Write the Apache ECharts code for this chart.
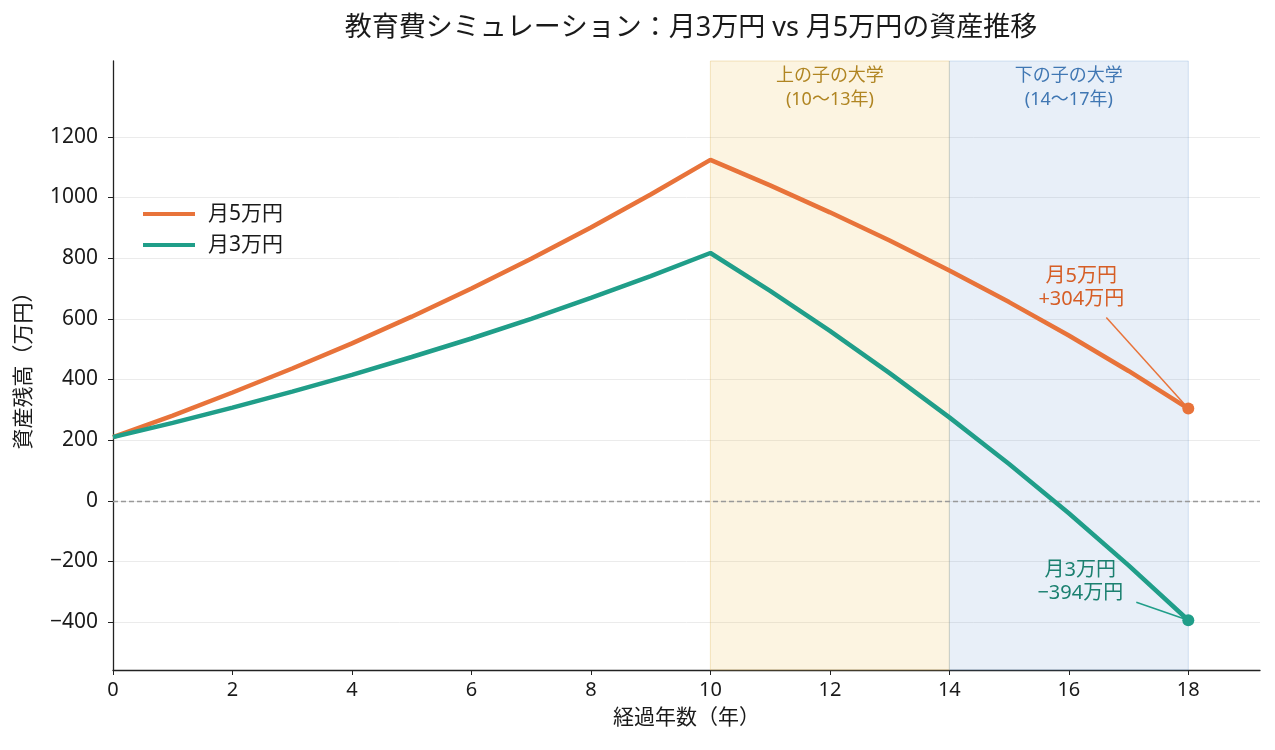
<!DOCTYPE html>
<html>
<head>
<meta charset="utf-8">
<script src="https://cdn.jsdelivr.net/npm/echarts@6/dist/echarts.min.js"></script>
<style>
  html, body { margin: 0; padding: 0; background: #fff; }
  #chart { width: 1275px; height: 750px; }
</style>
</head>
<body>
<div id="chart"></div>
<script>
// years elapsed
const years = [0, 1, 2, 3, 4, 5, 6, 7, 8, 9, 10, 11, 12, 13, 14, 15, 16, 17, 18];
// asset balance (万円)
const plan5 = [210, 281, 357, 436, 519, 607, 700, 798, 901, 1010, 1124, 1040, 951, 858, 759, 655, 545, 428, 304];
const plan3 = [210, 257, 307, 360, 415, 474, 535, 600, 669, 741, 817, 692, 560, 421, 275, 121, -41, -213, -394];
const xTicks = [0, 2, 4, 6, 8, 10, 12, 14, 16, 18];
const yTicks = [-400, -200, 0, 200, 400, 600, 800, 1000, 1200];
const college1 = [10, 14];
const college2 = [14, 18];

const FONT = '"Noto Sans", "Noto Sans CJK JP", sans-serif';
const ORANGE = '#e8733a';
const TEAL = '#209e89';

const chart = echarts.init(document.getElementById('chart'));

const pairs = arr => years.map((y, i) => [y, arr[i]]);
const last = years.length - 1;

chart.setOption({
  animation: false,
  textStyle: {fontFamily: FONT},
  title: {
    text: '教育費シミュレーション：月3万円 vs 月5万円の資産推移',
    left: 686,
    textAlign: 'center',
    top: 10,
    textStyle: {fontSize: 27, fontWeight: 'normal', color: '#1a1a1a', fontFamily: FONT}
  },
  legend: {
    orient: 'vertical',
    left: 143,
    top: 203,
    padding: 0,
    itemWidth: 52,
    itemHeight: 4,
    itemGap: 9,
    icon: 'rect',
    data: ['月5万円', '月3万円'],
    textStyle: {fontSize: 21, color: '#1a1a1a', padding: [0, 0, 0, 8], lineHeight: 22}
  },
  grid: {left: 113, right: 15, top: 61, bottom: 80},
  xAxis: {
    type: 'value',
    min: 0,
    max: 19.2,
    name: '経過年数（年）',
    nameLocation: 'middle',
    nameGap: 38,
    nameTextStyle: {fontSize: 21, color: '#1a1a1a'},
    axisLine: {show: true, onZero: false, lineStyle: {color: '#222', width: 1.3}},
    axisTick: {show: true, length: 5, lineStyle: {color: '#222'}, customValues: xTicks},
    axisLabel: {fontSize: 20, color: '#1a1a1a', margin: 10, customValues: xTicks},
    splitLine: {show: false}
  },
  yAxis: {
    type: 'value',
    min: -558,
    max: 1450,
    name: '資産残高（万円）',
    nameLocation: 'middle',
    nameGap: 78,
    nameRotate: 90,
    nameTextStyle: {fontSize: 21, color: '#1a1a1a'},
    axisLine: {show: true, onZero: false, lineStyle: {color: '#222', width: 1.3}},
    axisTick: {show: true, length: 5, lineStyle: {color: '#222'}, customValues: yTicks},
    axisLabel: {
      fontSize: 21, color: '#1a1a1a', margin: 15, customValues: yTicks,
      formatter: v => (v < 0 ? '\u2212' + Math.abs(v) : String(v))
    },
    splitLine: {show: true, lineStyle: {color: '#ebebeb', width: 1}}
  },
  series: [
    {
      name: '月5万円',
      type: 'line',
      data: pairs(plan5),
      showSymbol: false,
      symbol: 'none',
      lineStyle: {color: ORANGE, width: 4.5},
      itemStyle: {color: ORANGE},
      z: 5,
      markArea: {
        silent: true,
        data: [
          [{
            xAxis: college1[0],
            itemStyle: {color: 'rgba(236,192,90,0.18)', borderColor: 'rgba(220,180,90,0.35)', borderWidth: 1},
            label: {
              show: true, position: 'insideTop', distance: 3,
              formatter: '上の子の大学\n(10〜13年)',
              color: '#b08522', fontSize: 18, lineHeight: 24, fontFamily: FONT
            }
          }, {xAxis: college1[1]}],
          [{
            xAxis: college2[0],
            itemStyle: {color: 'rgba(100,150,210,0.15)', borderColor: 'rgba(100,150,210,0.25)', borderWidth: 1},
            label: {
              show: true, position: 'insideTop', distance: 3,
              formatter: '下の子の大学\n(14〜17年)',
              color: '#4077b3', fontSize: 18, lineHeight: 24, fontFamily: FONT
            }
          }, {xAxis: college2[1]}]
        ]
      },
      markLine: {
        silent: true,
        symbol: 'none',
        label: {show: false},
        lineStyle: {color: '#999', type: [5, 3], width: 1.3},
        data: [{yAxis: 0}]
      }
    },
    {
      name: '月3万円',
      type: 'line',
      data: pairs(plan3),
      showSymbol: false,
      symbol: 'none',
      lineStyle: {color: TEAL, width: 4.5},
      itemStyle: {color: TEAL},
      z: 5
    },
    {
      type: 'scatter',
      data: [
        {value: [years[last], plan5[last]], itemStyle: {color: ORANGE, opacity: 1}},
        {value: [years[last], plan3[last]], itemStyle: {color: TEAL, opacity: 1}}
      ],
      symbolSize: 12,
      z: 6,
      silent: true
    }
  ]
});

// end-point annotations with connector lines
const p5 = chart.convertToPixel({gridIndex: 0}, [years[last], plan5[last]]);
const p3 = chart.convertToPixel({gridIndex: 0}, [years[last], plan3[last]]);
const fmt = v => (v >= 0 ? '+' + v : '\u2212' + Math.abs(v)) + '万円';

chart.setOption({
  graphic: [
    {
      type: 'line', z: 4,
      shape: {x1: p5[0] - 82, y1: p5[1] - 91, x2: p5[0], y2: p5[1]},
      style: {stroke: ORANGE, lineWidth: 1.5}
    },
    {
      type: 'text', z: 10,
      x: p5[0] - 107, y: p5[1] - 121,
      style: {
        text: '月5万円\n' + fmt(plan5[last]),
        fill: '#d65e26', font: '20px ' + FONT, lineHeight: 23,
        align: 'center', verticalAlign: 'middle'
      }
    },
    {
      type: 'line', z: 4,
      shape: {x1: p3[0] - 52, y1: p3[1] - 18, x2: p3[0], y2: p3[1]},
      style: {stroke: TEAL, lineWidth: 1.5}
    },
    {
      type: 'text', z: 10,
      x: p3[0] - 108, y: p3[1] - 38,
      style: {
        text: '月3万円\n' + fmt(plan3[last]),
        fill: '#1b8070', font: '20px ' + FONT, lineHeight: 23,
        align: 'center', verticalAlign: 'middle'
      }
    }
  ]
});
</script>
</body>
</html>
